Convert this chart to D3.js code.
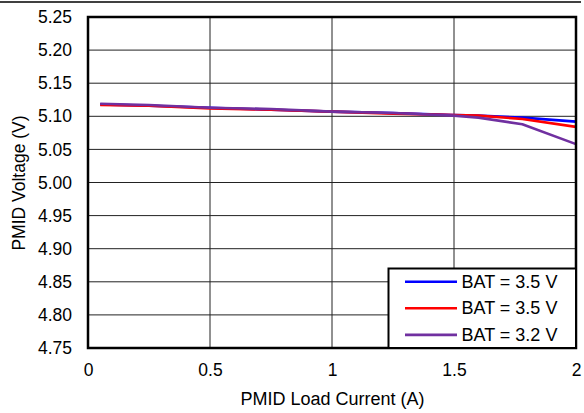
<!DOCTYPE html>
<html><head><meta charset="utf-8">
<script src="https://cdn.jsdelivr.net/npm/d3@7"></script>
<style>body{margin:0;background:#fff}svg{display:block}text{font-family:"Liberation Sans",Arial,sans-serif;fill:#000}</style>
</head><body>
<script>
const current = [0.05, 0.25, 0.5, 0.75, 1.0, 1.25, 1.5, 1.6, 1.78, 2.0];
const bat35a = [5.118, 5.116, 5.113, 5.110, 5.107, 5.105, 5.102, 5.101, 5.098, 5.092];
const bat35b = [5.117, 5.116, 5.112, 5.110, 5.107, 5.104, 5.102, 5.101, 5.096, 5.084];
const bat32  = [5.119, 5.117, 5.113, 5.111, 5.107, 5.105, 5.101, 5.098, 5.088, 5.058];
const seriesNames = ["BAT = 3.5 V", "BAT = 3.5 V", "BAT = 3.2 V"];
const seriesColors = ["#0000ff", "#ff0000", "#7030a0"];
const xTicks = [0, 0.5, 1, 1.5, 2];
const yTicks = [4.75, 4.80, 4.85, 4.90, 4.95, 5.00, 5.05, 5.10, 5.15, 5.20, 5.25];

const W = 584, H = 413;
const L = 88, R = 576, T = 17, B = 348;
const FS = 17.5;
const svg = d3.select("body").append("svg").attr("width", W).attr("height", H);

svg.append("line").attr("x1", 0).attr("x2", 581).attr("y1", 2).attr("y2", 2)
  .attr("stroke", "#000").attr("stroke-width", 1.5);

const x = d3.scaleLinear().domain([0, 2]).range([L, R]);
const y = d3.scaleLinear().domain([4.75, 5.25]).range([B, T]);

// grid
const g = svg.append("g");
g.selectAll(".vg").data(xTicks.slice(1, -1)).join("line")
  .attr("x1", d => x(d)).attr("x2", d => x(d)).attr("y1", T).attr("y2", B)
  .attr("stroke", "#222").attr("stroke-width", 1);
g.selectAll(".hg").data(yTicks.slice(1, -1)).join("line")
  .attr("x1", L).attr("x2", R).attr("y1", d => y(d)).attr("y2", d => y(d))
  .attr("stroke", "#222").attr("stroke-width", 1);

// axes labels via d3 axes
const xAxis = svg.append("g").attr("transform", `translate(0,${B})`)
  .call(d3.axisBottom(x).tickValues(xTicks).tickSize(0).tickPadding(16).tickFormat(d3.format("")));
const yAxis = svg.append("g").attr("transform", `translate(${L},0)`)
  .call(d3.axisLeft(y).tickValues(yTicks).tickSize(0).tickPadding(16).tickFormat(d3.format(".2f")));
[xAxis, yAxis].forEach(a => {
  a.select(".domain").remove();
  a.selectAll("text").attr("font-size", FS).attr("font-family", "Liberation Sans, Arial, sans-serif").attr("fill", "#000");
});

// lines
const series = [bat35a, bat35b, bat32];
const line = d3.line().x((d, i) => x(current[i])).y(d => y(d));
series.forEach((s, k) => {
  svg.append("path").datum(s).attr("d", line).attr("fill", "none")
    .attr("stroke", seriesColors[k]).attr("stroke-width", 2.6).attr("stroke-linejoin", "round");
});

// border
svg.append("rect").attr("x", L).attr("y", T).attr("width", R - L).attr("height", B - T)
  .attr("fill", "none").attr("stroke", "#000").attr("stroke-width", 2.5);

// legend
const lg = svg.append("g");
lg.append("rect").attr("x", 388.5).attr("y", 268.5).attr("width", R - 388.5).attr("height", B - 268.5)
  .attr("fill", "#fff").attr("stroke", "#000").attr("stroke-width", 2);
seriesNames.forEach((n, k) => {
  const yy = 281.7 + k * 26.6;
  lg.append("line").attr("x1", 405).attr("x2", 457).attr("y1", yy).attr("y2", yy)
    .attr("stroke", seriesColors[k]).attr("stroke-width", 2.6);
  lg.append("text").attr("x", 461.5).attr("y", yy + 5.8).attr("font-size", 18).text(n);
});

// titles
svg.append("text").attr("x", 332.5).attr("y", 405).attr("text-anchor", "middle")
  .attr("font-size", 18).text("PMID Load Current (A)");
svg.append("text").attr("transform", `translate(24.5,183) rotate(-90)`)
  .attr("text-anchor", "middle").attr("font-size", FS).text("PMID Voltage (V)");
</script>
</body></html>
